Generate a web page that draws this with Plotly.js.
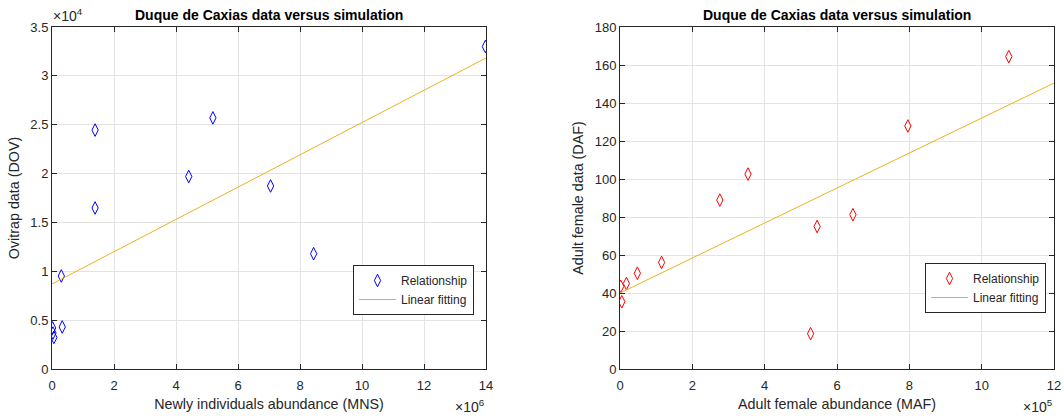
<!DOCTYPE html>
<html><head><meta charset="utf-8">
<script src="https://cdn.plot.ly/plotly-3.0.1.min.js"></script>
<style>html,body{margin:0;padding:0;background:#fff}#chart{width:1064px;height:419px}</style>
</head><body><div id="chart"></div>
<script>
// Left panel: Newly individuals abundance (MNS) vs Ovitrap data (DOV)
const mnsX = [1.39e6, 5.19e6, 4.41e6, 7.05e6, 1.39e6, 8.44e6, 0.30e6, 0.33e6, 0.02e6, 0.03e6, 0.06e6, 13.98e6];
const dovY = [24450, 25700, 19700, 18730, 16480, 11800, 9520, 4300, 4200, 3680, 3230, 33000];
const fitLeftX = [0, 14e6];
const fitLeftY = [8700, 31830];

// Right panel: Adult female abundance (MAF) vs Adult female data (DAF)
const mafX = [0.02e5, 0.05e5, 0.177e5, 0.48e5, 1.15e5, 2.76e5, 3.54e5, 5.45e5, 5.27e5, 6.44e5, 7.96e5, 10.75e5];
const dafY = [43.5, 35.4, 45.0, 50.4, 56.1, 88.9, 102.6, 75.0, 18.6, 81.2, 127.9, 164.4];
const fitRightX = [0, 12e5];
const fitRightY = [40, 150.5];

const leftXTickLabels = ['0','2','4','6','8','10','12','14'];
const leftXTickValues = [0, 2e6, 4e6, 6e6, 8e6, 10e6, 12e6, 14e6];
const leftYTickLabels = ['0','0.5','1','1.5','2','2.5','3','3.5'];
const leftYTickValues = [0, 5000, 10000, 15000, 20000, 25000, 30000, 35000];
const rightXTickLabels = ['0','2','4','6','8','10','12'];
const rightXTickValues = [0, 2e5, 4e5, 6e5, 8e5, 10e5, 12e5];
const rightYTickValues = [0, 20, 40, 60, 80, 100, 120, 140, 160, 180];

const titleText = 'Duque de Caxias data versus simulation';
const FONT = 'Liberation Sans, Arial, Helvetica, sans-serif';
const TXT = '#262626';
const GRID = '#e3e3e3';

const traces = [
  {x: mnsX, y: dovY, type: 'scatter', mode: 'markers', name: 'Relationship',
   marker: {symbol: 'diamond-tall-open', size: 9, color: '#0000ff', line: {width: 1, color: '#0000ff'}},
   xaxis: 'x', yaxis: 'y', legend: 'legend'},
  {x: fitLeftX, y: fitLeftY, type: 'scatter', mode: 'lines', name: 'Linear fitting',
   line: {color: '#EDB120', width: 1}, xaxis: 'x', yaxis: 'y', legend: 'legend'},
  {x: mafX, y: dafY, type: 'scatter', mode: 'markers', name: 'Relationship',
   marker: {symbol: 'diamond-tall-open', size: 9, color: '#ff0000', line: {width: 1, color: '#ff0000'}},
   xaxis: 'x2', yaxis: 'y2', legend: 'legend2'},
  {x: fitRightX, y: fitRightY, type: 'scatter', mode: 'lines', name: 'Linear fitting',
   line: {color: '#EDB120', width: 1}, xaxis: 'x2', yaxis: 'y2', legend: 'legend2'}
];

function axisBase() {
  return {
    showline: true, linecolor: TXT, linewidth: 1, mirror: 'ticks',
    ticks: 'inside', ticklen: 5, tickcolor: TXT, tickwidth: 1,
    showgrid: true, gridcolor: GRID, gridwidth: 1, zeroline: false,
    tickfont: {family: FONT, size: 13, color: TXT},
    automargin: false, fixedrange: true
  };
}

const yDom = [50/419, 392/419];
const axTitleFont = {family: FONT, size: 14.3, color: TXT};
const layout = {
  width: 1064, height: 419,
  margin: {l: 0, r: 0, t: 0, b: 0},
  paper_bgcolor: '#fff', plot_bgcolor: '#fff',
  font: {family: FONT, color: TXT},
  showlegend: true,
  xaxis: Object.assign(axisBase(), {
    domain: [52/1064, 486/1064], range: [0, 14e6], anchor: 'y', ticklabelstandoff: 4,
    tickmode: 'array', tickvals: leftXTickValues, ticktext: leftXTickLabels,
    title: {text: 'Newly individuals abundance (MNS)', font: axTitleFont, standoff: 7}
  }),
  yaxis: Object.assign(axisBase(), {
    domain: yDom, range: [0, 35000], anchor: 'x',
    tickmode: 'array', tickvals: leftYTickValues, ticktext: leftYTickLabels,
    title: {text: 'Ovitrap data (DOV)', font: axTitleFont, standoff: 7}
  }),
  xaxis2: Object.assign(axisBase(), {
    domain: [620/1064, 1054/1064], range: [0, 12e5], anchor: 'y2', ticklabelstandoff: 4,
    tickmode: 'array', tickvals: rightXTickValues, ticktext: rightXTickLabels,
    title: {text: 'Adult female abundance (MAF)', font: axTitleFont, standoff: 7}
  }),
  yaxis2: Object.assign(axisBase(), {
    domain: yDom, range: [0, 180], anchor: 'x2',
    tickmode: 'array', tickvals: rightYTickValues,
    title: {text: 'Adult female data (DAF)', font: axTitleFont, standoff: 7}
  }),
  legend: {
    x: 353/1064, y: 1 - 265/419, xanchor: 'left', yanchor: 'top',
    bgcolor: '#fff', bordercolor: TXT, borderwidth: 1,
    font: {family: FONT, size: 12, color: TXT}, tracegroupgap: 0, itemwidth: 37
  },
  legend2: {
    x: 925/1064, y: 1 - 263/419, xanchor: 'left', yanchor: 'top',
    bgcolor: '#fff', bordercolor: TXT, borderwidth: 1,
    font: {family: FONT, size: 12, color: TXT}, tracegroupgap: 0, itemwidth: 37
  },
  annotations: [
    {text: '<b>' + titleText + '</b>', xref: 'paper', yref: 'paper', x: 269/1064, y: 1 - 15/419,
     xanchor: 'center', yanchor: 'middle', showarrow: false, font: {family: FONT, size: 14, color: '#000'}},
    {text: '<b>' + titleText + '</b>', xref: 'paper', yref: 'paper', x: 837/1064, y: 1 - 15/419,
     xanchor: 'center', yanchor: 'middle', showarrow: false, font: {family: FONT, size: 14, color: '#000'}},
    {text: '×10<sup>4</sup>', xref: 'paper', yref: 'paper', x: 51/1064, y: 1 - 15/419,
     xanchor: 'left', yanchor: 'middle', showarrow: false, font: {family: FONT, size: 14, color: TXT}},
    {text: '×10<sup>6</sup>', xref: 'paper', yref: 'paper', x: 487/1064, y: 1 - 406/419,
     xanchor: 'right', yanchor: 'middle', showarrow: false, font: {family: FONT, size: 14, color: TXT}},
    {text: '×10<sup>5</sup>', xref: 'paper', yref: 'paper', x: 1055/1064, y: 1 - 406/419,
     xanchor: 'right', yanchor: 'middle', showarrow: false, font: {family: FONT, size: 14, color: TXT}}
  ]
};

Plotly.newPlot('chart', traces, layout, {displayModeBar: false, staticPlot: true});
</script>
</body></html>
